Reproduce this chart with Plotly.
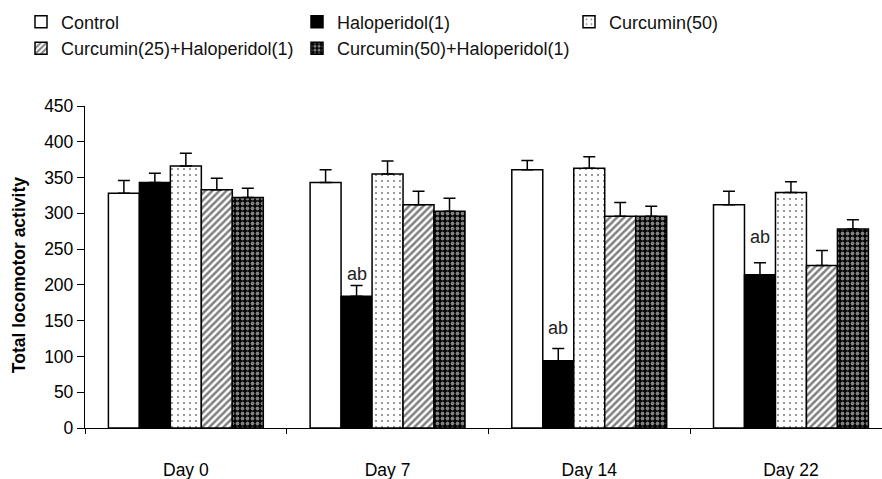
import plotly.graph_objects as go

days = ["Day 0", "Day 7", "Day 14", "Day 22"]
series_names = ["Control", "Haloperidol(1)", "Curcumin(50)",
                "Curcumin(25)+Haloperidol(1)", "Curcumin(50)+Haloperidol(1)"]

control = [328, 343, 361, 312]
control_se = [18, 18, 13, 19]
haloperidol = [343, 184, 94, 214]
haloperidol_se = [13, 15, 17, 17]
curcumin50 = [366, 355, 363, 329]
curcumin50_se = [18, 18, 16, 15]
cur25_halo = [333, 312, 296, 227]
cur25_halo_se = [16, 19, 19, 21]
cur50_halo = [322, 303, 296, 278]
cur50_halo_se = [13, 18, 14, 13]

sig_labels = ["", "ab", "ab", "ab"]
sig_y = [0, 215, 140, 267]

values = [control, haloperidol, curcumin50, cur25_halo, cur50_halo]
errors = [control_se, haloperidol_se, curcumin50_se, cur25_halo_se, cur50_halo_se]

styles = [
    dict(color="white", pattern=dict(shape="")),
    dict(color="black", pattern=dict(shape="")),
    dict(color="white", pattern=dict(shape=".", fgcolor="black", bgcolor="white", size=6, solidity=0.1)),
    dict(color="white", pattern=dict(shape="/", fgcolor="black", bgcolor="white", size=5, solidity=0.5)),
    dict(color="black", pattern=dict(shape=".", fgcolor="white", bgcolor="black", size=5, solidity=0.45)),
]
legend_ids = ["legend", "legend", "legend3", "legend2", "legend2"]

fig = go.Figure()
for name, vals, errs, st, lg in zip(series_names, values, errors, styles, legend_ids):
    fig.add_trace(go.Bar(
        x=days, y=vals, name=name, legend=lg,
        marker=dict(color=st["color"], pattern=st["pattern"],
                    line=dict(color="black", width=1.5)),
        error_y=dict(type="data", array=errs, arrayminus=[0] * len(errs),
                     symmetric=False, color="black", thickness=1.5, width=6),
    ))

W, H = 882, 479
ml, mr, mt, mb = 85, 0, 105.7, 51
plot_w = W - ml - mr
cat_px = 201.7
x_end = -0.5 + plot_w / cat_px
bargap = 0.232
bar_w = (1 - bargap) / 5

for i, (lab, yv) in enumerate(zip(sig_labels, sig_y)):
    if lab:
        fig.add_annotation(x=i - (1 - bargap) / 2 + 1.5 * bar_w, y=yv, text=lab,
                           showarrow=False, xref="x", yref="y",
                           font=dict(size=18, color="#222"),
                           xanchor="center", yanchor="middle")

fig.add_annotation(text="<b>Total locomotor activity</b>", textangle=-90,
                   xref="paper", yref="paper",
                   x=(19 - ml) / plot_w, y=(H - mb - 275) / (H - mt - mb),
                   xanchor="center", yanchor="middle", showarrow=False,
                   font=dict(size=17.5, color="black"))

leg_common = dict(orientation="h", xref="container", yref="container",
                  xanchor="left", yanchor="middle",
                  font=dict(size=18, color="#111", family="Liberation Sans, Arial, sans-serif"),
                  entrywidth=231, entrywidthmode="pixels",
                  bgcolor="rgba(0,0,0,0)", borderwidth=0, traceorder="normal")

fig.update_layout(
    width=W, height=H,
    margin=dict(l=ml, r=mr, t=mt, b=mb, pad=0),
    paper_bgcolor="white", plot_bgcolor="white",
    font=dict(family="Liberation Sans, Arial, sans-serif", color="black", size=17.5),
    barmode="group", bargap=bargap, bargroupgap=0,
    legend=dict(x=21 / W, y=1 - 22 / H, **leg_common),
    legend3=dict(x=569 / W, y=1 - 22 / H, **leg_common),
    legend2=dict(x=21 / W, y=1 - 48.5 / H, **leg_common),
    xaxis=dict(type="category", range=[-0.5, x_end], showline=True, linecolor="black",
               linewidth=1.3, ticks="outside", tickson="boundaries", ticklen=5,
               tickwidth=1.3, tickcolor="black", showgrid=False, zeroline=False,
               ticklabelstandoff=26, tickfont=dict(size=17.5)),
    yaxis=dict(range=[0, 450], tickvals=list(range(0, 451, 50)), showline=True,
               linecolor="black", linewidth=1.3, ticks="outside", ticklen=7,
               tickwidth=1.3, tickcolor="black", showgrid=False, zeroline=False,
               tickfont=dict(size=17.5)),
)

fig.write_html("out.html")
